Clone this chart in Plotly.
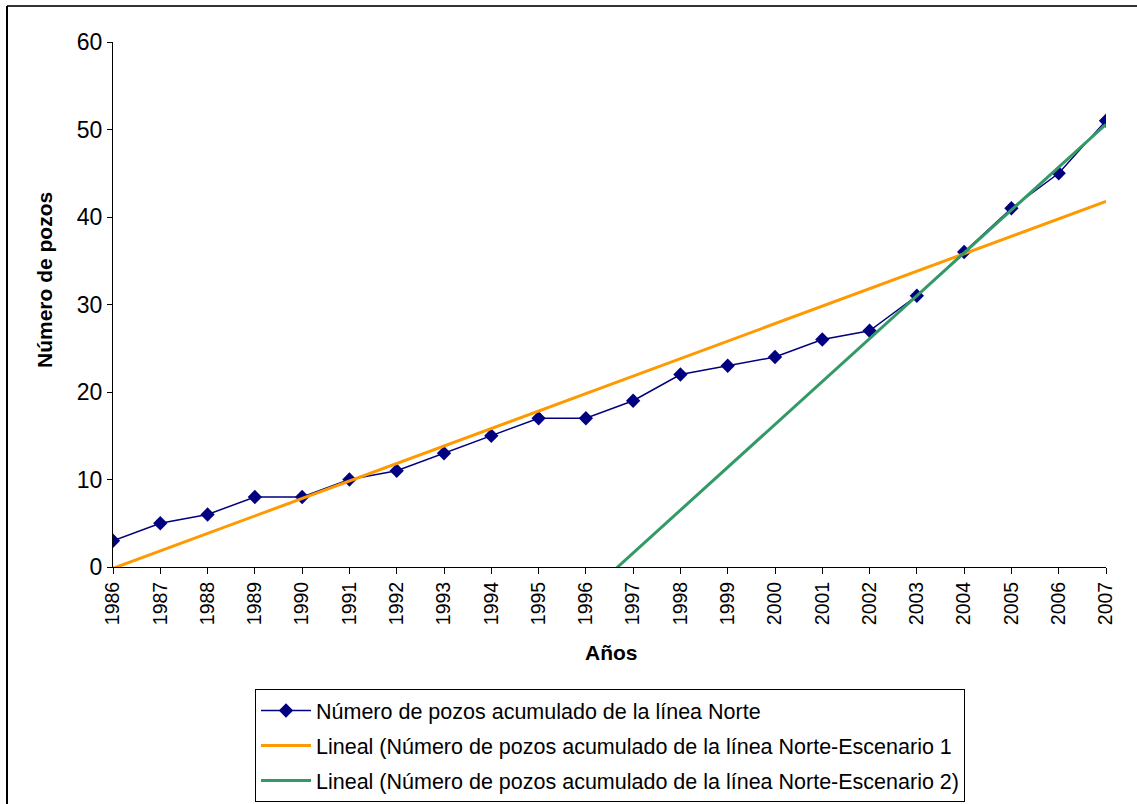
import numpy as np
import plotly.graph_objects as go

# Cumulative number of wells on the northern line, per year
years = [1986, 1987, 1988, 1989, 1990, 1991, 1992, 1993, 1994, 1995, 1996,
         1997, 1998, 1999, 2000, 2001, 2002, 2003, 2004, 2005, 2006, 2007]
wells = [3, 5, 6, 8, 8, 10, 11, 13, 15, 17, 17,
         19, 22, 23, 24, 26, 27, 31, 36, 41, 45, 51]

# Years used for the second scenario trend (recent growth only)
scenario2_years = [2003, 2004, 2005, 2006, 2007]

series_name = "Número de pozos acumulado de la línea Norte"
trend1_name = "Lineal (Número de pozos acumulado de la línea Norte-Escenario 1"
trend2_name = "Lineal (Número de pozos acumulado de la línea Norte-Escenario 2)"

x = np.array(years, dtype=float)
y = np.array(wells, dtype=float)
idx = np.arange(1, len(years) + 1, dtype=float)

# Scenario 1: least-squares line over the full period
m1, b1 = np.polyfit(idx, y, 1)
# Scenario 2: least-squares line over the last years, extended backwards
mask = np.isin(x, scenario2_years)
m2, b2 = np.polyfit(idx[mask], y[mask], 1)

ends = np.array([idx[0], idx[-1]])
ends_year = np.array([x[0], x[-1]])

font_family = "Arial, Liberation Sans, sans-serif"

fig = go.Figure()
fig.add_trace(go.Scatter(
    x=x, y=y, mode="lines+markers", name=series_name, legendgroup="a",
    line=dict(color="#000080", width=1.5),
    marker=dict(symbol="diamond", size=11, color="#000080"),
))
fig.add_trace(go.Scatter(
    x=ends_year, y=m1 * ends + b1, mode="lines", name=trend1_name,
    legendgroup="b",
    line=dict(color="#FF9900", width=3),
))
fig.add_trace(go.Scatter(
    x=ends_year, y=m2 * ends + b2, mode="lines", name=trend2_name,
    legendgroup="c",
    line=dict(color="#339966", width=3),
))

fig.update_layout(
    width=1137, height=804,
    margin=dict(l=113, r=31, t=42, b=237, autoexpand=False),
    paper_bgcolor="white", plot_bgcolor="white",
    font=dict(family=font_family, color="black", size=20),
    showlegend=True,
    legend=dict(
        x=0.143, y=-0.2324, xanchor="left", yanchor="top",
        bordercolor="black", borderwidth=1, bgcolor="white",
        font=dict(size=21.5, family=font_family),
        itemwidth=50, traceorder="grouped", tracegroupgap=4,
    ),
    xaxis=dict(
        range=[1986, 2007], tickmode="array", tickvals=years,
        ticktext=[str(v) for v in years], tickangle=-90,
        ticks="outside", ticklen=6, tickcolor="black",
        showline=True, linecolor="black", linewidth=1,
        showgrid=False, zeroline=False,
        tickfont=dict(size=19.5),
    ),
    yaxis=dict(
        range=[0, 60], dtick=10,
        ticks="outside", ticklen=5, tickcolor="black",
        showline=True, linecolor="black", linewidth=1,
        showgrid=False, zeroline=False,
        tickfont=dict(size=23),
    ),
    annotations=[
        dict(text="<b>Años</b>", xref="paper", yref="paper",
             x=(611 - 113) / 993, y=(567 - 652) / 525,
             xanchor="center", yanchor="middle", showarrow=False,
             font=dict(size=21)),
        dict(text="<b>Número de pozos</b>", xref="paper", yref="paper",
             x=(44 - 113) / 993, y=(567 - 280) / 525, textangle=-90,
             xanchor="center", yanchor="middle", showarrow=False,
             font=dict(size=21)),
    ],
    shapes=[
        # outer chart frame (top and left edges)
        dict(type="line", xref="paper", yref="paper",
             x0=(7 - 113) / 993, x1=(1140 - 113) / 993,
             y0=(567 - 6) / 525, y1=(567 - 6) / 525,
             line=dict(color="#333333", width=2)),
        dict(type="line", xref="paper", yref="paper",
             x0=(7 - 113) / 993, x1=(7 - 113) / 993,
             y0=(567 - 6) / 525, y1=(567 - 810) / 525,
             line=dict(color="black", width=2)),
    ],
)

fig.write_html("out.html")
